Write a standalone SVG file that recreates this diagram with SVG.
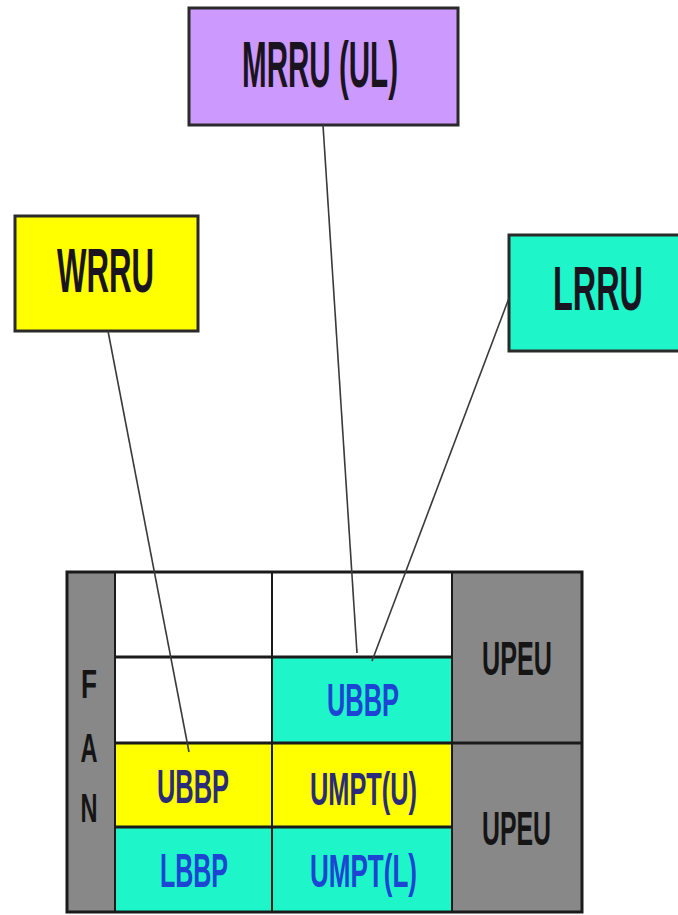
<svg xmlns="http://www.w3.org/2000/svg" width="678" height="915" viewBox="0 0 678 915">
  <style>
    .node { stroke: #2a2a2a; stroke-width: 3; }
    .title { font-family: "Liberation Sans", Arial, sans-serif; font-weight: bold; fill: #1a1420; }
    .cell { font-family: "Liberation Sans", Arial, sans-serif; font-weight: bold; }
    .grid { stroke: #1a1a1a; stroke-width: 3; fill: none; }
    .thin { stroke: #1a1a1a; stroke-width: 2; }
    .link { stroke: #3a3a3a; stroke-width: 1.6; fill: none; }
    .blue { fill: #1e44d4; }
    .navy { fill: #2b2b7c; }
    .black { fill: #151515; }
  </style>
  <rect width="678" height="915" fill="#ffffff"/>

  <!-- radio units -->
  <g id="mrru">
    <rect class="node" x="189" y="8" width="269" height="117" fill="#cc99ff"/>
    <text class="title" x="242" y="87" font-size="64" textLength="156" lengthAdjust="spacingAndGlyphs">MRRU (UL)</text>
  </g>
  <g id="wrru">
    <rect class="node" x="15" y="216" width="183" height="115" fill="#ffff00"/>
    <text class="title" x="57" y="292" font-size="63" textLength="97" lengthAdjust="spacingAndGlyphs">WRRU</text>
  </g>
  <g id="lrru">
    <rect class="node" x="509" y="235" width="172" height="116" fill="#1ef5c8"/>
    <text class="title" x="553" y="310" font-size="63" textLength="90" lengthAdjust="spacingAndGlyphs">LRRU</text>
  </g>

  <!-- baseband chassis -->
  <g id="chassis">
    <rect x="67" y="572" width="515" height="340" fill="#ffffff"/>
    <!-- fan -->
    <g id="fan">
      <rect x="67" y="572" width="48" height="340" fill="#888888"/>
      <text class="cell black" x="89" y="698" font-size="40" text-anchor="middle" textLength="16" lengthAdjust="spacingAndGlyphs">F</text>
      <text class="cell black" x="89" y="762" font-size="40" text-anchor="middle" textLength="17" lengthAdjust="spacingAndGlyphs">A</text>
      <text class="cell black" x="89" y="822" font-size="40" text-anchor="middle" textLength="17" lengthAdjust="spacingAndGlyphs">N</text>
    </g>
    <!-- boards -->
    <g id="ubbp-upper">
      <rect x="272" y="657" width="180" height="86" fill="#1ef5c8"/>
      <text class="cell blue" x="327" y="716" font-size="46" textLength="72" lengthAdjust="spacingAndGlyphs">UBBP</text>
    </g>
    <g id="ubbp-lower">
      <rect x="115" y="743" width="157" height="84" fill="#ffff00"/>
      <text class="cell navy" x="157" y="803" font-size="48" textLength="72" lengthAdjust="spacingAndGlyphs">UBBP</text>
    </g>
    <g id="umpt-u">
      <rect x="272" y="743" width="180" height="84" fill="#ffff00"/>
      <text class="cell navy" x="310" y="805" font-size="46" textLength="107" lengthAdjust="spacingAndGlyphs">UMPT(U)</text>
    </g>
    <g id="lbbp">
      <rect x="115" y="827" width="157" height="85" fill="#1ef5c8"/>
      <text class="cell blue" x="160" y="887" font-size="48" textLength="68" lengthAdjust="spacingAndGlyphs">LBBP</text>
    </g>
    <g id="umpt-l">
      <rect x="272" y="827" width="180" height="85" fill="#1ef5c8"/>
      <text class="cell blue" x="310" y="887" font-size="46" textLength="107" lengthAdjust="spacingAndGlyphs">UMPT(L)</text>
    </g>
    <g id="upeu-upper">
      <rect x="452" y="572" width="130" height="171" fill="#888888"/>
      <text class="cell black" x="482" y="675" font-size="48" textLength="70" lengthAdjust="spacingAndGlyphs">UPEU</text>
    </g>
    <g id="upeu-lower">
      <rect x="452" y="743" width="130" height="169" fill="#888888"/>
      <text class="cell black" x="482" y="845" font-size="48" textLength="69" lengthAdjust="spacingAndGlyphs">UPEU</text>
    </g>
    <!-- slot dividers -->
    <line class="thin" x1="115" y1="572" x2="115" y2="912"/>
    <line class="thin" x1="272" y1="572" x2="272" y2="912"/>
    <line class="thin" x1="452" y1="572" x2="452" y2="912"/>
    <line class="grid" x1="115" y1="657" x2="452" y2="657"/>
    <line class="grid" x1="115" y1="743" x2="582" y2="743"/>
    <line class="grid" x1="115" y1="827" x2="452" y2="827"/>
    <rect class="grid" x="67" y="572" width="515" height="340"/>
  </g>

  <!-- fibre links from radio units to baseband boards -->
  <g id="links">
    <line class="link" x1="108" y1="331" x2="189" y2="752"/>
    <line class="link" x1="323" y1="125" x2="357" y2="653"/>
    <line class="link" x1="509" y1="298" x2="372" y2="661"/>
  </g>
</svg>
